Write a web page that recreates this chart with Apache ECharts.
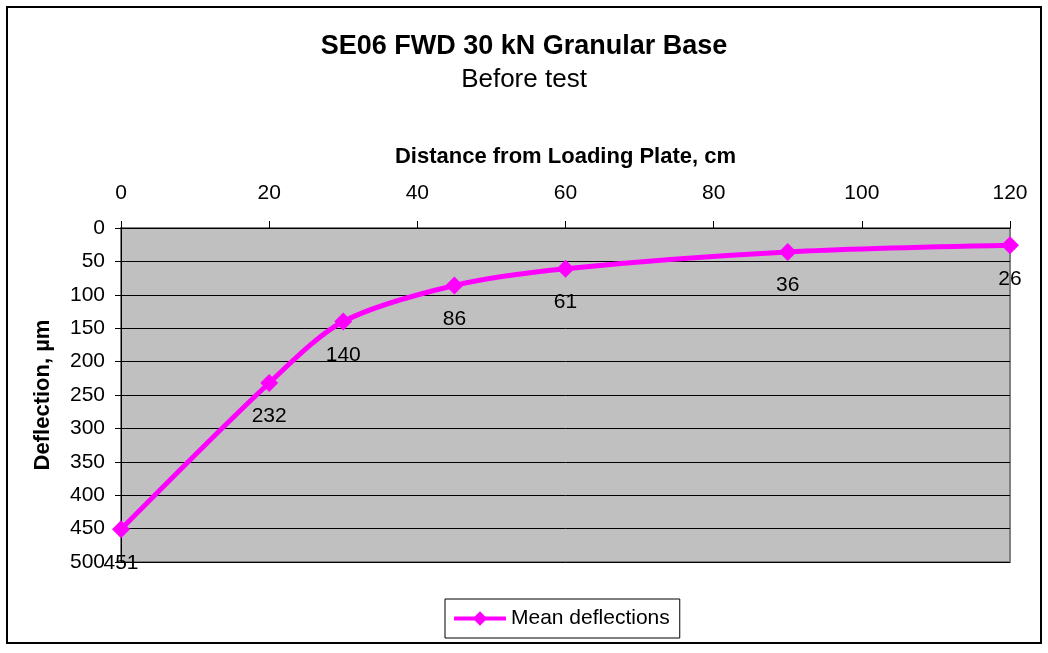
<!DOCTYPE html>
<html>
<head>
<meta charset="utf-8">
<script src="https://cdn.jsdelivr.net/npm/echarts@6/dist/echarts.min.js"></script>
<style>
  html, body { margin: 0; padding: 0; background: #fff; }
  #frame { position: absolute; left: 6px; top: 6px; width: 1036px; height: 638px; border: 2px solid #000; box-sizing: border-box; }
  #chart { position: absolute; left: 0; top: 0; width: 1048px; height: 653px; }
</style>
</head>
<body>
<div id="frame"></div>
<div id="chart"></div>
<script>
// Distance from the loading plate (cm) and mean deflection (µm)
const distances = [0, 20, 30, 45, 60, 90, 120];
const deflections = [451, 232, 140, 86, 61, 36, 26];
const xTicks = [0, 20, 40, 60, 80, 100, 120];
const yTicks = [0, 50, 100, 150, 200, 250, 300, 350, 400, 450, 500];

const font = 'Liberation Sans, Arial, sans-serif';
const chart = echarts.init(document.getElementById('chart'), null, { renderer: 'canvas' });

chart.setOption({
  animation: false,
  title: {
    text: 'SE06 FWD 30 kN Granular Base',
    subtext: 'Before test',
    left: 'center',
    top: 28,
    itemGap: 7,
    textStyle: { fontFamily: font, fontSize: 27, fontWeight: 'bold', color: '#000' },
    subtextStyle: { fontFamily: font, fontSize: 26, color: '#000' }
  },
  legend: {
    bottom: 15,
    left: 445,
    data: ['Mean deflections'],
    itemWidth: 52,
    itemHeight: 18,
    itemGap: 5,
    padding: [9, 10, 9, 7],
    borderColor: '#000',
    borderWidth: 1,
    lineStyle: { width: 4 },
    textStyle: { fontFamily: font, fontSize: 21, color: '#000' }
  },
  grid: {
    left: 121, right: 38, top: 228, bottom: 91,
    show: true,
    backgroundColor: '#C0C0C0',
    borderColor: '#808080',
    borderWidth: 2
  },
  xAxis: {
    type: 'value',
    position: 'top',
    min: 0, max: 120, interval: 20,
    name: 'Distance from Loading Plate, cm',
    nameLocation: 'middle',
    nameGap: 60,
    nameTextStyle: { fontFamily: font, fontSize: 22, fontWeight: 'bold', color: '#000' },
    axisLine: { show: true, onZero: false, lineStyle: { color: '#000', width: 1 } },
    axisTick: { show: true, inside: false, length: 7, lineStyle: { color: '#000' } },
    axisLabel: {
      fontFamily: font, fontSize: 21, color: '#000', margin: 24,
      formatter: v => xTicks.includes(v) ? String(v) : ''
    },
    splitLine: { show: false }
  },
  yAxis: {
    type: 'value',
    inverse: true,
    min: 0, max: 500, interval: 50,
    name: 'Deflection, µm',
    nameLocation: 'middle',
    nameGap: 67,
    nameTextStyle: { fontFamily: font, fontSize: 22, fontWeight: 'bold', color: '#000' },
    axisLine: { show: true, onZero: false, lineStyle: { color: '#000', width: 1 } },
    axisTick: { show: true, length: 6, lineStyle: { color: '#000' } },
    axisLabel: {
      fontFamily: font, fontSize: 21, color: '#000', margin: 16,
      formatter: v => yTicks.includes(v) ? String(v) : ''
    },
    splitLine: { show: true, lineStyle: { color: '#000', width: 1 } }
  },
  series: [{
    name: 'Mean deflections',
    type: 'line',
    data: distances.map((d, i) => [d, deflections[i]]),
    smooth: 0.3,
    symbol: 'diamond',
    symbolSize: 18,
    lineStyle: { color: '#FF00FF', width: 5 },
    itemStyle: { color: '#FF00FF' },
    label: {
      show: true,
      position: 'bottom',
      distance: 14,
      fontFamily: font,
      fontSize: 21,
      color: '#000',
      formatter: p => String(p.value[1])
    },
    clip: false
  }]
});
</script>
</body>
</html>
